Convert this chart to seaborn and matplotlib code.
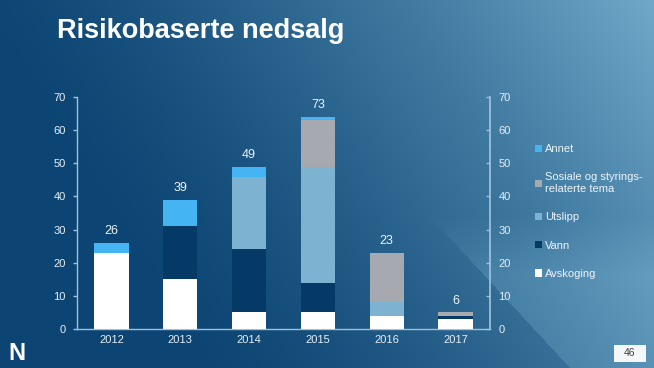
import numpy as np
import pandas as pd
import matplotlib
matplotlib.use("Agg")
import matplotlib.pyplot as plt
import seaborn as sns
from matplotlib.colors import to_rgb
from matplotlib.patches import Rectangle

# data
years = ["2012", "2013", "2014", "2015", "2016", "2017"]
avskoging = [23, 15, 5, 5, 4, 3]
vann = [0, 16, 19, 9, 0, 1]
utslipp = [0, 0, 22, 35, 4, 0]
sosiale = [0, 0, 0, 14, 15, 1]
annet = [3, 8, 3, 1, 0, 0]
totals = [26, 39, 49, 73, 23, 6]

series = ["Avskoging", "Vann", "Utslipp", "Sosiale og styrings-\nrelaterte tema", "Annet"]
colors = ["#ffffff", "#063a66", "#7db3d1", "#a7a9b0", "#45b4f2"]

df = pd.DataFrame({"year": years, series[0]: avskoging, series[1]: vann,
                   series[2]: utslipp, series[3]: sosiale, series[4]: annet})
cum = df[series].cumsum(axis=1)

sns.set_theme(style="white")
plt.rcParams["font.family"] = ["Liberation Sans", "DejaVu Sans"]

W, H = 654, 368
fig = plt.figure(figsize=(W / 100, H / 100), dpi=100)

# background gradient
yy, xx = np.mgrid[0:H, 0:W]
u = xx / W
v = yy / H
s = np.clip(0.85 * u + 0.3 * (1 - v) - 0.25, 0, 1) ** 1.4
tri = xx > 470 + (yy - 260) * 100 / 108
fade = np.clip((yy - 215) / 60, 0, 1)
s = np.where(tri, np.clip(s + 0.18 * fade, 0, 1), s)
c0 = np.array(to_rgb("#0c4573"))
c1 = np.array(to_rgb("#7fb8d6"))
img = c0[None, None, :] * (1 - s[..., None]) + c1[None, None, :] * s[..., None]
bg = fig.add_axes([0, 0, 1, 1], zorder=-5)
bg.imshow(img, aspect="auto", extent=[0, W, H, 0])
bg.set_xlim(0, W)
bg.set_ylim(H, 0)
bg.axis("off")

ax = fig.add_axes([77 / W, 1 - 329 / H, (490 - 77) / W, (329 - 97) / H])
ax.set_facecolor("none")

# stacked bars: draw cumulative tops first, lower segments over them
for name, col in reversed(list(zip(series, colors))):
    sns.barplot(x=df["year"], y=cum[name], color=col, width=0.5,
                saturation=1, ax=ax, label=name, linewidth=0, zorder=3)
handles, labels = ax.get_legend_handles_labels()
if ax.get_legend() is not None:
    ax.get_legend().remove()

ax.set_xlim(-0.5, 5.5)
ax.set_ylim(0, 70)
ax.set_yticks(range(0, 71, 10))
ax.set_xlabel("")
ax.set_ylabel("")

axis_col = "#9cc3dd"
tick_col = "#e6eff6"
for side in ["top", "right"]:
    ax.spines[side].set_visible(False)
for side in ["left", "bottom"]:
    ax.spines[side].set_color(axis_col)
    ax.spines[side].set_linewidth(1)
ax.tick_params(axis="y", left=True, length=3, width=1, color=axis_col,
               labelcolor=tick_col, labelsize=8, pad=5, direction="out")
ax.tick_params(axis="x", bottom=False, length=0, labelcolor=tick_col, labelsize=8, pad=4)

ax2 = ax.twinx()
ax2.set_ylim(0, 70)
ax2.set_yticks(range(0, 71, 10))
for side in ["top", "left", "bottom"]:
    ax2.spines[side].set_visible(False)
ax2.spines["right"].set_color(axis_col)
ax2.tick_params(axis="y", right=True, length=3, width=1, color=axis_col,
                labelcolor=tick_col, labelsize=8, pad=6, direction="in")
ax2.grid(False)
ax.grid(False)

# total labels above the stacks
tops = cum[series[-1]].tolist()
for i, (t, lab) in enumerate(zip(tops, totals)):
    ax.annotate(str(lab), (i, t), xytext=(0, 4), textcoords="offset points",
                ha="center", va="bottom", color="#eef4f9", fontsize=9)

leg = fig.legend(handles, labels, loc="upper left", bbox_to_anchor=(525 / W, 1 - 134 / H),
                 frameon=False, fontsize=8, labelcolor="#eef4f9",
                 handlelength=0.6, handleheight=0.6, handletextpad=0.3,
                 labelspacing=1.65)

fig.text(57 / W, 1 - 31 / H, "Risikobaserte nedsalg", fontsize=19.5, fontweight="bold",
         color="white", ha="left", va="center")

# logo and page number
fig.text(8 / W, 1 - 353 / H, "N", fontsize=17, fontweight="bold", color="white",
         ha="left", va="center")
fig.patches.append(Rectangle((614 / W, 1 - 362 / H), 32 / W, 17 / H,
                             transform=fig.transFigure, facecolor="#f4f7fa",
                             edgecolor="none"))
fig.text(630 / W, 1 - 353.5 / H, "46", fontsize=7.5, color="#404040", ha="center", va="center")

fig.savefig("out.png", dpi=100)
